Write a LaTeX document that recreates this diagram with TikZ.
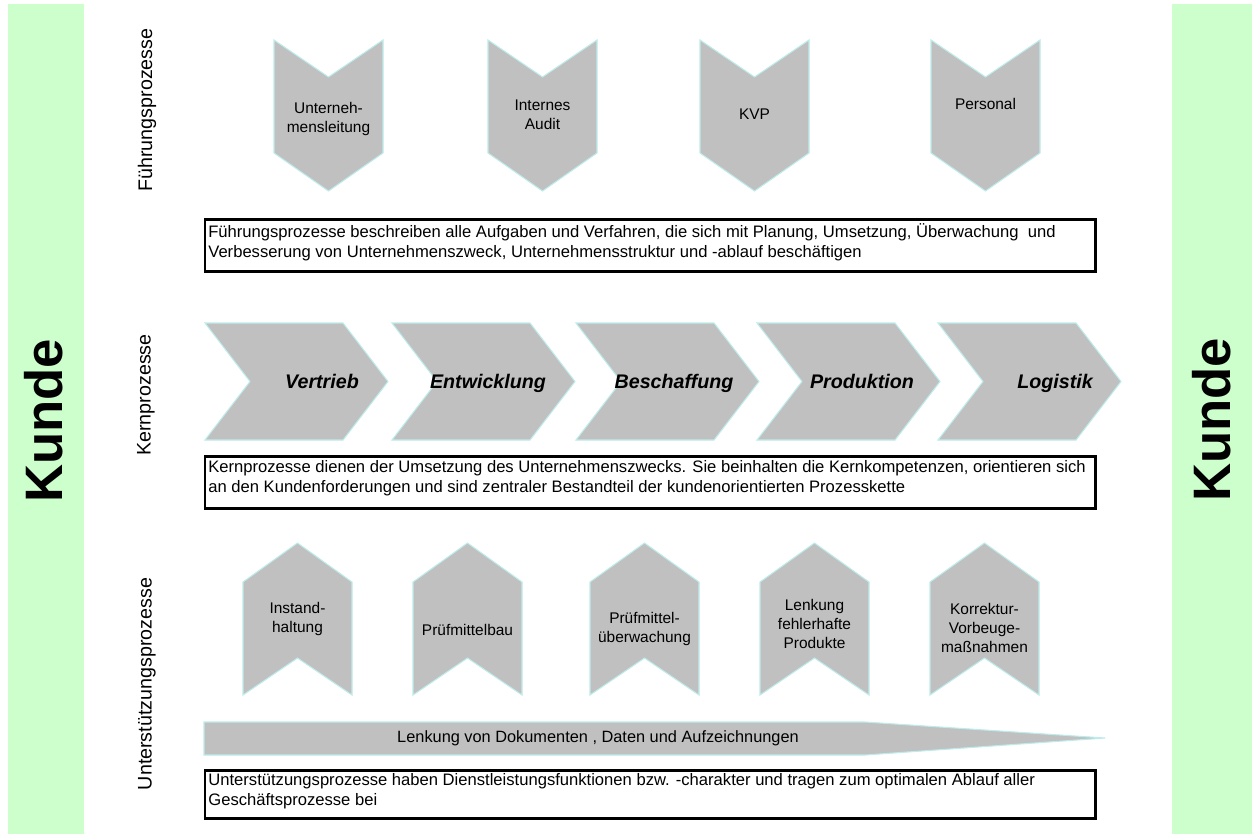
\documentclass[tikz,border=0pt]{standalone}
\usepackage{fontspec}
\setmainfont{Liberation Sans}
\definecolor{kgreen}{RGB}{204,255,204}
\definecolor{chevgray}{RGB}{192,192,192}
\definecolor{chevedge}{RGB}{190,236,236}
\newcommand\descfont{\fontsize{9.45}{11.7}\selectfont}
\newcommand\chevfont{\fontsize{8.8}{10.6}\selectfont}
\newcommand\kernfont{\fontsize{11.2}{13}\selectfont\bfseries\itshape}
\newcommand\labfont{\fontsize{11.2}{13}\selectfont}
\begin{document}
\begin{tikzpicture}[x=0.02cm,y=-0.02cm,
  chev/.style={fill=chevgray,draw=chevedge,line width=0.6pt,line join=miter},
  band/.style={fill=kgreen,draw=none},
  desc/.style={draw=black,line width=1.7pt},
  desctext/.style={anchor=north west,inner sep=0pt,align=left,font=\descfont},
  chevlabel/.style={align=center,inner sep=0pt,font=\chevfont},
  kernlabel/.style={anchor=base,inner sep=0pt,font=\kernfont},
  sectlabel/.style={rotate=90,inner sep=0pt,font=\labfont},
  kunde/.style={rotate=90,inner sep=0pt,font=\fontsize{30}{32}\selectfont\bfseries}]
\useasboundingbox (0,0) rectangle (1256,836);
\fill[white] (0,0) rectangle (1256,836);
% customer bands
\fill[band] (8,4) rectangle (84,834);
\fill[band] (1172,4) rectangle (1252,834);
\node[kunde] (kundeL) at (43.5,421) {Kunde};
\node[kunde] (kundeR) at (1212,420) {Kunde};
% section labels
\node[sectlabel] (lF) at (147,110) {Führungsprozesse};
\node[sectlabel] (lK) at (146,395) {Kernprozesse};
\node[sectlabel] (lU) at (147,684) {Unterstützungsprozesse};
% Fuehrungsprozesse chevrons (pointing down)
\foreach \L in {274,488,700,931}{
  \draw[chev] (\L,40) -- ++(54.5,37) -- ++(54.5,-37) -- ++(0,113) -- ++(-54.5,38) -- ++(-54.5,-38) -- cycle;
}
\node[chevlabel] (f1) at (328.5,119) {Unterneh-\\mensleitung};
\node[chevlabel] (f2) at (542.5,115) {Internes\\Audit};
\node[chevlabel] (f3) at (754.5,114) {KVP};
\node[chevlabel] (f4) at (985.5,104) {Personal};
% description 1
\draw[desc] (205,219) rectangle (1095,271);
\node[desctext] (d1) at (208,223) {Führungsprozesse beschreiben alle Aufgaben und Verfahren, die sich mit Planung, Umsetzung, Überwachung\ \ und\\Verbesserung von Unternehmenszweck, Unternehmensstruktur und -ablauf beschäftigen};
% Kernprozesse chevrons (pointing right)
\foreach \L in {205,392,576,757,938}{
  \draw[chev] (\L,323) -- ++(138,0) -- ++(45,58.5) -- ++(-45,58.5) -- ++(-138,0) -- ++(45,-58.5) -- cycle;
}
\node[kernlabel] (k1) at (322,388) {Vertrieb};
\node[kernlabel] (k2) at (488,388) {Entwicklung};
\node[kernlabel] (k3) at (674,388) {Beschaffung};
\node[kernlabel] (k4) at (862,388) {Produktion};
\node[kernlabel] (k5) at (1055,388) {Logistik};
% description 2
\draw[desc] (205,456) rectangle (1095,508);
\node[desctext] (d2) at (208,460) {Kernprozesse dienen der Umsetzung des Unternehmenszwecks. Sie beinhalten die Kernkompetenzen, orientieren sich\\an den Kundenforderungen und sind zentraler Bestandteil der kundenorientierten Prozesskette};
% Unterstuetzungsprozesse chevrons (pointing up)
\foreach \L in {243,413,590,760,930}{
  \draw[chev] (\L,582) -- ++(54.5,-39) -- ++(54.5,39) -- ++(0,113) -- ++(-54.5,-37) -- ++(-54.5,37) -- cycle;
}
\node[chevlabel] (u1) at (297.5,619) {Instand-\\haltung};
\node[chevlabel] (u2) at (467.5,630) {Prüfmittelbau};
\node[chevlabel] (u3) at (644.5,629) {Prüfmittel-\\überwachung};
\node[chevlabel] (u4) at (814.5,624) {Lenkung\\fehlerhafte\\Produkte};
\node[chevlabel] (u5) at (984.5,628) {Korrektur-\\Vorbeuge-\\maßnahmen};
% long arrow
\draw[chev] (204,722) -- (865,722) -- (1105,738) -- (865,755) -- (204,755) -- cycle;
\node[chevlabel,font=\fontsize{9.3}{11}\selectfont] (doc) at (598,738) {Lenkung von Dokumenten , Daten und Aufzeichnungen};
% description 3
\draw[desc] (205,770) rectangle (1095,818);
\node[desctext] (d3) at (208,773) {Unterstützungsprozesse haben Dienstleistungsfunktionen bzw. -charakter und tragen zum optimalen Ablauf aller\\Geschäftsprozesse bei};
\end{tikzpicture}
\end{document}
